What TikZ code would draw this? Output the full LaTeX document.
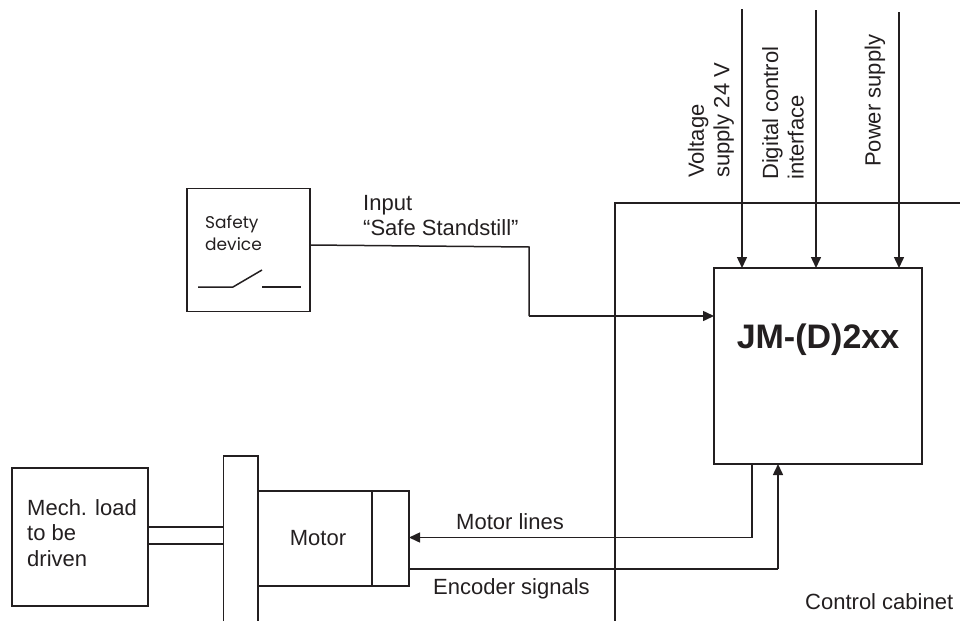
\documentclass[tikz,border=0pt]{standalone}
\usepackage{fontspec}
\setmainfont{Liberation Sans}
\newfontfamily\gothicfont{Poppins}
\usetikzlibrary{arrows.meta, calc}
\definecolor{inkline}{HTML}{231F20}
\tikzset{
  block/.style={draw=inkline, line width=1.2pt, fill=none, inner sep=0pt, outer sep=0pt},
  sigline/.style={draw=inkline, line width=1.5pt},
  sigarrow/.style={sigline, -{Triangle[length=11pt, width=10pt]}},
  lbl/.style={text=inkline, inner sep=0pt, align=left, anchor=west, font=\fontsize{22}{25.5}\selectfont},
  lblup/.style={lbl, rotate=90}
}
\begin{document}
\begin{tikzpicture}[x=1pt, y=-1pt]
  \useasboundingbox (0,0) rectangle (960,621);

  % cabinet outline
  \coordinate (Cab_TR) at (960,203);
  \coordinate (Cab_TL) at (615,203);
  \coordinate (Cab_BL) at (615,621);
  \draw[sigline] (Cab_TR) -- (Cab_TL) -- (Cab_BL);

  \node[block, minimum width=208pt, minimum height=196pt] (jm) at (818,366) {};
  \node[inner sep=0pt, text=inkline, font=\fontsize{34}{36}\selectfont\bfseries] (jmtext) at (818,340) {JM-(D)2xx};

  \node[block, minimum width=123pt, minimum height=123pt] (safety) at (248.5,250) {};
  \node[text=inkline, inner sep=0pt, align=left, anchor=west, font=\fontsize{17}{22}\gothicfont] (safetytext) at (205,233) {Safety\\device};

  % switch
  \coordinate (Sw_A) at (198,287);
  \coordinate (Sw_B) at (233,287);
  \coordinate (Sw_C) at (262,270);
  \coordinate (Sw_D) at (262,287);
  \coordinate (Sw_E) at (301,287);
  \draw[sigline] (Sw_A) -- (Sw_B) -- (Sw_C);
  \draw[sigline] (Sw_D) -- (Sw_E);

  % input line
  \coordinate (In_S) at (310,245);
  \coordinate (In_A) at (529,247);
  \coordinate (In_B) at (529,316);
  \draw[sigline] (In_S -| safety.east) -- (In_A) -- (In_B);
  \draw[sigarrow] (In_B) -- (In_B -| jm.west);
  \node[lbl] (inputlbl) at (363,215.5) {Input\\“Safe Standstill”};

  % supply lines
  \coordinate (V_T) at (742,9);
  \coordinate (D_T) at (816,10);
  \coordinate (P_T) at (899,12);
  \draw[sigarrow] (V_T) -- (V_T |- jm.north);
  \draw[sigarrow] (D_T) -- (D_T |- jm.north);
  \draw[sigarrow] (P_T) -- (P_T |- jm.north);
  \node[lblup] (voltlbl) at (711,178) {Voltage\\supply 24 V};
  \node[lblup] (digilbl) at (783,180) {Digital control\\interface};
  \node[lblup] (powerlbl) at (875,167) {Power supply};

  % drive side
  \node[block, minimum width=136pt, minimum height=138pt] (load) at (80,537) {};
  \node[lbl] (loadlbl) at (27,533) {Mech. load\\to be\\driven};
  \coordinate (Fl_TL) at (223.5,456);
  \coordinate (Fl_TR) at (258,456);
  \coordinate (Fl_BL) at (223.5,621);
  \coordinate (Fl_BR) at (258,621);
  \draw[block] (Fl_BL) -- (Fl_TL) -- (Fl_TR) -- (Fl_BR);
  \draw[sigline] (load.east |- 0,527) -- (Fl_TL |- 0,527);
  \draw[sigline] (load.east |- 0,544) -- (Fl_TL |- 0,544);

  \node[block, minimum width=114pt, minimum height=95pt] (motor) at (315,538.5) {};
  \node[block, minimum width=37pt, minimum height=95pt, anchor=west] (encoder) at (motor.east) {};
  \node[lbl, anchor=center] (motortext) at (318,538) {Motor};

  % motor and encoder lines
  \coordinate (Mo_A) at (752,537.5);
  \coordinate (En_A) at (778,569);
  \draw[sigline] (Mo_A |- jm.south) -- (Mo_A);
  \draw[sigarrow] (Mo_A) -- (Mo_A -| encoder.east);
  \draw[sigline] (En_A -| encoder.east) -- (En_A);
  \draw[sigarrow] (En_A) -- (En_A |- jm.south);
  \node[lbl] (motlbl) at (456,522) {Motor lines};
  \node[lbl] (enclbl) at (433,589) {Encoder signals};
  \node[lbl] (cablbl) at (805,602) {Control cabinet};
\end{tikzpicture}
\end{document}
